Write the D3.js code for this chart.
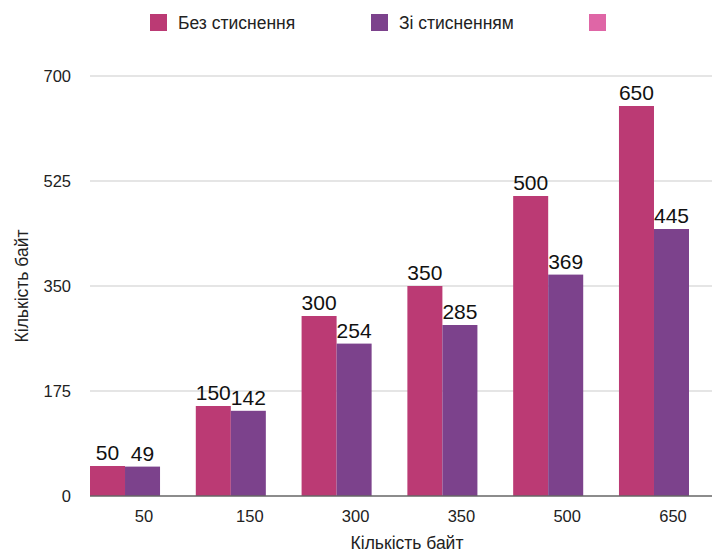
<!DOCTYPE html>
<html><head><meta charset="utf-8">
<script src="https://cdn.jsdelivr.net/npm/d3@7"></script>
<style>body{margin:0;background:#fff;}svg{display:block;font-family:"Liberation Sans",Arial,sans-serif;}</style>
</head><body>
<svg id="c" width="712" height="554"></svg>
<script>
const categories = ["50","150","300","350","500","650"];
const seriesNames = ["Без стиснення","Зі стисненням",""];
const withoutCompression = [50,150,300,350,500,650];
const withCompression = [49,142,254,285,369,445];
const yTicks = [0,175,350,525,700];
const colors = ["#bb3a74","#7c428c","#df66a6"];

const svg = d3.select("#c");
const x = d3.scaleBand().domain(categories).range([90,689]).paddingInner(0.338).paddingOuter(0);
const sub = d3.scaleBand().domain([0,1]).range([0,x.bandwidth()]);
const y = d3.scaleLinear().domain([0,700]).range([496,76]);

svg.append("g").selectAll("line").data(yTicks.filter(d=>d>0)).join("line")
  .attr("x1",90).attr("x2",712).attr("y1",d=>y(d)).attr("y2",d=>y(d))
  .attr("stroke","#dcdcdc").attr("stroke-width",1.3);

svg.append("g").selectAll("text").data(yTicks).join("text")
  .attr("x",71).attr("y",d=>y(d)+6).attr("text-anchor","end")
  .attr("font-size",16.5).attr("fill","#222").text(d=>d);

const data = [withoutCompression, withCompression];
data.forEach((vals,si)=>{
  const g = svg.append("g");
  g.selectAll("rect").data(categories).join("rect")
    .attr("x",(c)=>x(c)+sub(si)).attr("width",sub.bandwidth())
    .attr("y",(c,i)=>y(vals[i])).attr("height",(c,i)=>y(0)-y(vals[i]))
    .attr("fill",colors[si]);
  g.selectAll("text").data(categories).join("text")
    .attr("x",(c)=>x(c)+sub(si)+sub.bandwidth()/2).attr("y",(c,i)=>y(vals[i])-6)
    .attr("text-anchor","middle").attr("font-size",21).attr("fill","#111")
    .text((c,i)=>vals[i]);
});

svg.append("line").attr("x1",90).attr("x2",712).attr("y1",y(0)).attr("y2",y(0))
  .attr("stroke","#666").attr("stroke-width",1.5);

svg.append("g").selectAll("text").data(categories).join("text")
  .attr("x",c=>x(c)+x.bandwidth()/2+19).attr("y",522).attr("text-anchor","middle")
  .attr("font-size",16.5).attr("fill","#222").text(c=>c);

svg.append("text").attr("x",407).attr("y",549).attr("text-anchor","middle")
  .attr("font-size",17.5).attr("fill","#222").text("Кількість байт");
svg.append("text").attr("transform","translate(28,286) rotate(-90)").attr("text-anchor","middle")
  .attr("font-size",17.5).attr("fill","#222").text("Кількість байт");

const legX = [150,371,589];
seriesNames.forEach((n,i)=>{
  svg.append("rect").attr("x",legX[i]).attr("y",14).attr("width",17).attr("height",17).attr("fill",colors[i]);
  svg.append("text").attr("x",legX[i]+28).attr("y",29).attr("font-size",17.5).attr("fill","#222").text(n);
});
</script>
</body></html>
